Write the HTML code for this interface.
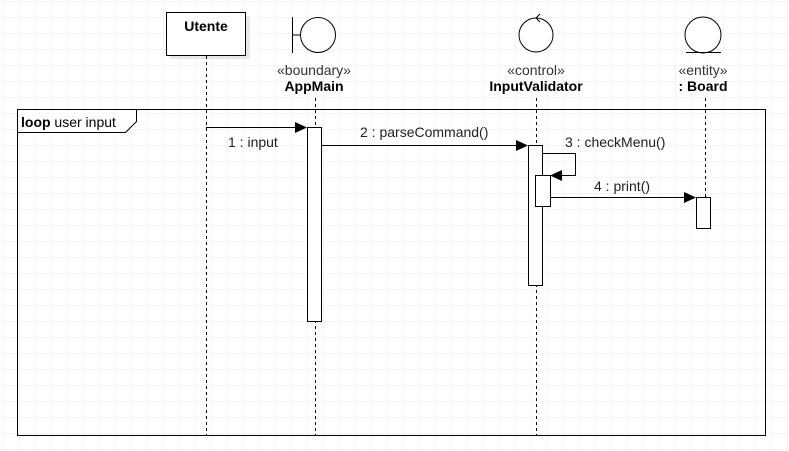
<!DOCTYPE html>
<html><head><meta charset="utf-8"><style>
html,body{margin:0;padding:0;background:#fff;}
svg{display:block;font-family:"Liberation Sans",Arial,sans-serif;}
</style></head><body>
<svg width="789" height="451" viewBox="0 0 789 451" xmlns="http://www.w3.org/2000/svg">
<defs>
<pattern id="g" x="3" y="1" width="16" height="16" patternUnits="userSpaceOnUse">
<path d="M0 0H16M0 0V16" stroke="#ebebeb" stroke-width="1" fill="none"/>
</pattern>
</defs>
<rect width="789" height="451" fill="url(#g)"/>
<rect x="17.5" y="109.5" width="748" height="326" fill="none" stroke="#000" stroke-width="1"/>
<path d="M17.5 109.5H136.5V121.5L125.5 132.5H17.5Z" fill="#fff" stroke="#000"/>
<text x="21" y="127" font-size="14"><tspan font-weight="bold">loop</tspan> user input</text>
<rect x="170" y="16" width="80" height="43" fill="#e8e8e8"/>
<rect x="166.5" y="12.5" width="79" height="43" fill="#fff" stroke="#000"/>
<text x="206" y="31" font-size="14" font-weight="bold" text-anchor="middle">Utente</text>
<line x1="292.5" y1="17" x2="292.5" y2="53" stroke="#000"/>
<line x1="292.5" y1="35" x2="300" y2="35" stroke="#000"/>
<circle cx="318" cy="35" r="17.5" fill="#fff" stroke="#000"/>
<text x="314" y="75" font-size="14" fill="#333" text-anchor="middle">«boundary»</text>
<text x="314" y="91" font-size="14" font-weight="bold" text-anchor="middle">AppMain</text>
<circle cx="536" cy="35" r="17" fill="#fff" stroke="#000"/>
<path d="M540 14L536 18L540 22" fill="none" stroke="#000"/>
<text x="536" y="75" font-size="14" fill="#333" text-anchor="middle">«control»</text>
<text x="536" y="91" font-size="14" font-weight="bold" text-anchor="middle">InputValidator</text>
<circle cx="703" cy="35" r="18" fill="#fff" stroke="#000"/>
<line x1="686" y1="52.5" x2="721" y2="52.5" stroke="#000"/>
<text x="703" y="75" font-size="14" fill="#333" text-anchor="middle">«entity»</text>
<text x="703" y="91" font-size="14" font-weight="bold" text-anchor="middle">: Board</text>
<g stroke="#000" stroke-dasharray="3,3">
<line x1="206.5" y1="56" x2="206.5" y2="435"/>
<line x1="315.5" y1="98" x2="315.5" y2="435"/>
<line x1="536.5" y1="98" x2="536.5" y2="435"/>
<line x1="705.5" y1="98" x2="705.5" y2="197"/>
</g>
<rect x="307.5" y="127.5" width="14" height="194" fill="#fff" stroke="#000"/>
<rect x="528.5" y="145.5" width="14" height="140" fill="#fff" stroke="#000"/>
<rect x="535.5" y="175.5" width="15" height="31" fill="#fff" stroke="#000"/>
<rect x="696.5" y="197.5" width="14" height="31" fill="#fff" stroke="#000"/>
<g stroke="#000" fill="none">
<line x1="206" y1="127.5" x2="296" y2="127.5"/>
<line x1="321" y1="145.5" x2="517" y2="145.5"/>
<polyline points="542,153.5 575.5,153.5 575.5,175.5 562,175.5"/>
<line x1="550" y1="197.5" x2="685" y2="197.5"/>
</g>
<g fill="#000">
<polygon points="307,127.5 295,122 295,133"/>
<polygon points="528,145.5 516,140 516,151"/>
<polygon points="550,175.5 562,170 562,181"/>
<polygon points="696,197.5 684,192 684,203"/>
</g>
<g font-size="14" fill="#222">
<text x="228" y="147">1 : input</text>
<text x="360" y="137">2 : parseCommand()</text>
<text x="565" y="147">3 : checkMenu()</text>
<text x="594" y="191">4 : print()</text>
</g>
</svg>
</body></html>
